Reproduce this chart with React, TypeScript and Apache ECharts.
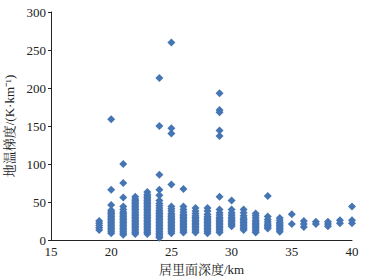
import React, { useEffect, useRef } from "react";
import * as echarts from "echarts";

const xTicks = [15, 20, 25, 30, 35, 40];
const yTicks = [0, 50, 100, 150, 200, 250, 300];

const depths = [19, 20, 21, 22, 23, 24, 25, 26, 27, 28, 29, 30, 31, 32, 33, 34, 35, 36, 37, 38, 39, 40];

const g19 = [13, 16, 19, 22, 25];
const g20 = [9, 11, 13, 15, 17, 19, 21, 23, 25, 27, 29, 31, 33, 35, 37, 39, 46, 66, 159];
const g21 = [7, 9, 11, 13, 15, 17, 19, 21, 23, 25, 27, 29, 31, 33, 35, 37, 40, 44, 56, 75, 100];
const g22 = [8, 10, 12, 14, 16, 18, 20, 22, 24, 26, 28, 30, 32, 34, 36, 38, 40, 42, 44, 46, 48, 50, 52, 54, 57];
const g23 = [8, 10, 12, 14, 16, 18, 20, 22, 24, 26, 28, 30, 32, 34, 36, 38, 40, 42, 44, 46, 48, 50, 52, 54, 56, 58, 60, 63];
const g24 = [3, 5, 7, 9, 11, 13, 15, 17, 19, 21, 23, 25, 27, 29, 31, 33, 35, 37, 39, 42, 45, 48, 52, 59, 66, 86, 150, 213];
const g25 = [9, 11, 13, 15, 17, 19, 21, 23, 25, 27, 29, 31, 33, 35, 38, 41, 44, 73, 140, 147, 260];
const g26 = [10, 12, 14, 16, 18, 20, 22, 24, 26, 28, 30, 32, 34, 37, 40, 44, 67];
const g27 = [10, 12, 14, 16, 18, 20, 22, 24, 26, 28, 30, 32, 35, 38, 42];
const g28 = [9, 11, 13, 15, 17, 19, 21, 23, 25, 27, 29, 31, 34, 38, 42];
const g29 = [10, 12, 14, 16, 18, 20, 22, 24, 26, 28, 30, 33, 36, 40, 57, 137, 144, 168, 171, 193];
const g30 = [18, 20, 22, 24, 26, 28, 30, 33, 36, 40, 52];
const g31 = [13, 15, 17, 19, 21, 23, 25, 27, 29, 32, 36, 40];
const g32 = [10, 12, 14, 16, 18, 20, 22, 24, 26, 29, 32, 35];
const g33 = [15, 17, 19, 21, 24, 27, 31, 58];
const g34 = [11, 13, 15, 17, 19, 21, 23, 26, 29];
const g35 = [21, 34];
const g36 = [17, 21, 25];
const g37 = [21, 24];
const g38 = [18, 21, 24];
const g39 = [22, 26];
const g40 = [22, 26, 44];

const gradients = [g19, g20, g21, g22, g23, g24, g25, g26, g27, g28, g29, g30, g31, g32, g33, g34, g35, g36, g37, g38, g39, g40];

const serif = "'Liberation Serif', 'Noto Serif CJK SC', 'Noto Sans CJK SC', serif";

export default function App() {
  const ref = useRef<HTMLDivElement>(null);
  useEffect(() => {
    if (!ref.current) return;
    const chart = echarts.init(ref.current, null, { renderer: "svg" });
    const data: number[][] = [];
    depths.forEach((d, i) => gradients[i].forEach((v) => data.push([d, v])));
    chart.setOption({
      animation: false,
      backgroundColor: "#ffffff",
      grid: { left: 51, right: 21, top: 12, bottom: 39, containLabel: false, outerBoundsMode: "none" },
      xAxis: {
        type: "value",
        min: xTicks[0],
        max: xTicks[xTicks.length - 1],
        interval: 5,
        name: "居里面深度/km",
        nameLocation: "middle",
        nameGap: 22,
        nameTextStyle: { color: "#222", fontSize: 13, fontFamily: serif },
        axisLine: { lineStyle: { color: "#222", width: 1 } },
        axisTick: { show: false },
        axisLabel: { color: "#222", fontSize: 13, fontFamily: serif, margin: 5 },
        splitLine: { show: false },
      },
      yAxis: {
        type: "value",
        min: yTicks[0],
        max: yTicks[yTicks.length - 1],
        interval: 50,
        name: "地温梯度/(K·km⁻¹)",
        nameLocation: "middle",
        nameGap: 27,
        nameTextStyle: { color: "#222", fontSize: 13, fontFamily: serif },
        axisLine: { show: true, lineStyle: { color: "#222", width: 1 } },
        axisTick: { show: true, length: 3, lineStyle: { color: "#222" } },
        axisLabel: { color: "#222", fontSize: 13, fontFamily: serif, margin: 5 },
        splitLine: { show: false },
      },
      series: [
        {
          type: "scatter",
          symbol: "diamond",
          symbolSize: 8,
          itemStyle: { color: "#4675b4", opacity: 1 },
          data,
        },
      ],
    });
    return () => chart.dispose();
  }, []);
  return <div ref={ref} style={{ width: 373, height: 279, position: "absolute", left: 0, top: 0 }} />;
}
